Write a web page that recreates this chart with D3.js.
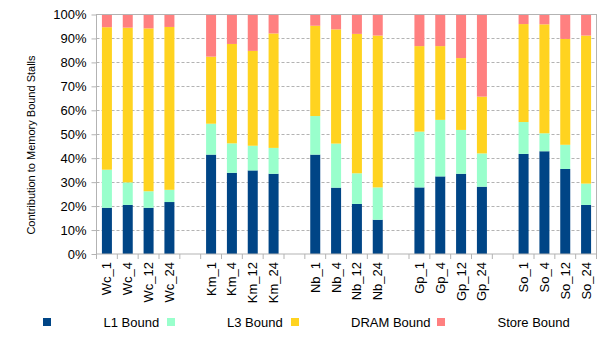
<!DOCTYPE html>
<html>
<head>
<meta charset="utf-8">
<title>Memory bound stalls</title>
<script src="https://cdn.jsdelivr.net/npm/d3@7"></script>
<style>
  body { margin: 0; background: #fff; }
  svg { font-family: "Liberation Sans", Arial, sans-serif; }
  .grid line { stroke: #b3b3b3; stroke-dasharray: 3,2; }
  .frame { stroke: #b3b3b3; fill: none; }
</style>
</head>
<body>
<svg width="605" height="340"></svg>
<script>
// benchmarks and thread counts
var groups = ['Wc', 'Km', 'Nb', 'Gp', 'So'];
var threads = ['1', '4', '12', '24'];
var categories = ['Wc_1','Wc_4','Wc_12','Wc_24','Km_1','Km_4','Km_12','Km_24',
  'Nb_1','Nb_4','Nb_12','Nb_24','Gp_1','Gp_4','Gp_12','Gp_24','So_1','So_4','So_12','So_24'];

// share of memory bound stalls, percent
var l1Bound    = [19.3,20.5,19.3,21.7, 41.5,33.9,34.9,33.5, 41.5,27.7,20.9,14.3, 27.8,32.4,33.5,28.1, 41.8,42.9,35.5,20.5];
var l3Bound    = [15.9, 9.4, 6.9, 5.1, 12.9,12.3,10.3,10.8, 16.1,18.4,12.8,13.5, 23.3,23.6,18.3,13.9, 13.3, 7.5,10.1, 8.9];
var dramBound  = [59.5,64.6,68.0,68.0, 28.0,41.5,39.6,47.8, 37.7,47.7,58.2,63.4, 35.7,30.8,30.0,23.7, 40.9,45.5,44.2,61.8];
var storeBound = [ 5.3, 5.5, 5.8, 5.2, 17.6,12.3,15.2, 7.9,  4.7, 6.2, 8.1, 8.8, 13.2,13.2,18.2,34.3,  4.0, 4.1,10.2, 8.8];

var seriesNames = ['L1 Bound', 'L3 Bound', 'DRAM Bound', 'Store Bound'];
var yTicks = [0,10,20,30,40,50,60,70,80,90,100];

var colors = ['#004586', '#99ffcc', '#ffd320', '#ff8080'];

var rows = categories.map(function(c, i) {
  return {cat: c, 'L1 Bound': l1Bound[i], 'L3 Bound': l3Bound[i],
          'DRAM Bound': dramBound[i], 'Store Bound': storeBound[i]};
});

// slots on the x axis, one empty slot between groups
var slots = [];
groups.forEach(function(g, gi) {
  threads.forEach(function(t) { slots.push(g + '_' + t); });
  if (gi < groups.length - 1) slots.push('gap' + gi);
});

var plotLeft = 96.5, plotRight = 596.5, plotTop = 14.5, plotBottom = 254;

var svg = d3.select('svg');

var x = d3.scaleBand()
  .domain(slots)
  .range([plotLeft, plotRight])
  .paddingInner(0.52)
  .paddingOuter(0.26);

var y = d3.scaleLinear()
  .domain([0, 100])
  .range([plotBottom, plotTop]);

// dashed grid
svg.append('g').attr('class', 'grid')
  .selectAll('line')
  .data(yTicks.slice(1, -1))
  .enter().append('line')
  .attr('x1', plotLeft).attr('x2', plotRight)
  .attr('y1', function(d) { return Math.round(y(d)) + 0.5; })
  .attr('y2', function(d) { return Math.round(y(d)) + 0.5; });

var stack = d3.stack().keys(seriesNames);
var layers = stack(rows);

svg.append('g').selectAll('g')
  .data(layers)
  .enter().append('g')
  .attr('fill', function(d, i) { return colors[i]; })
  .selectAll('rect')
  .data(function(d) { return d; })
  .enter().append('rect')
  .attr('x', function(d) { return x(d.data.cat); })
  .attr('width', x.bandwidth())
  .attr('y', function(d) { return y(d[1]); })
  .attr('height', function(d) { return y(d[0]) - y(d[1]); });

// frame around plot
svg.append('rect').attr('class', 'frame')
  .attr('x', plotLeft).attr('y', y(100))
  .attr('width', plotRight - plotLeft).attr('height', y(0) - y(100));

// y axis
var yAxis = svg.append('g')
  .attr('transform', 'translate(' + plotLeft + ',0)')
  .call(d3.axisLeft(y).tickValues(yTicks).tickSize(5).tickPadding(5)
    .tickFormat(function(d) { return d + '%'; }));
yAxis.select('.domain').remove();
yAxis.selectAll('line').attr('stroke', '#b3b3b3');
yAxis.selectAll('text').attr('font-size', 13).attr('fill', '#000')
  .attr('font-family', '"Liberation Sans", Arial, sans-serif');

// x ticks at slot boundaries
var step = x.step();
svg.append('g').selectAll('line')
  .data(d3.range(slots.length + 1))
  .enter().append('line')
  .attr('x1', function(i) { return plotLeft + i * step; })
  .attr('x2', function(i) { return plotLeft + i * step; })
  .attr('y1', plotBottom).attr('y2', plotBottom + 5)
  .attr('stroke', '#b3b3b3');

// x labels
svg.append('g').selectAll('text')
  .data(categories)
  .enter().append('text')
  .attr('transform', function(d) {
    return 'translate(' + (x(d) + x.bandwidth() / 2 + 4.5) + ',' + (plotBottom + 8) + ') rotate(-90)';
  })
  .attr('text-anchor', 'end')
  .attr('font-size', 13)
  .text(function(d) { return d; });

// y title
svg.append('text')
  .attr('transform', 'translate(35,145) rotate(-90)')
  .attr('text-anchor', 'middle')
  .attr('font-size', 11)
  .text('Contribution to Memory Bound Stalls');

// legend
var legendBox = [43, 167, 291, 437];
var legendText = [103.5, 227, 351, 497.5];
var legend = svg.append('g');
legend.selectAll('rect')
  .data(seriesNames)
  .enter().append('rect')
  .attr('x', function(d, i) { return legendBox[i]; })
  .attr('y', 318).attr('width', 8).attr('height', 8)
  .attr('fill', function(d, i) { return colors[i]; });
legend.selectAll('text')
  .data(seriesNames)
  .enter().append('text')
  .attr('x', function(d, i) { return legendText[i]; })
  .attr('y', 327)
  .attr('font-size', 13)
  .text(function(d) { return d; });
</script>
</html>
